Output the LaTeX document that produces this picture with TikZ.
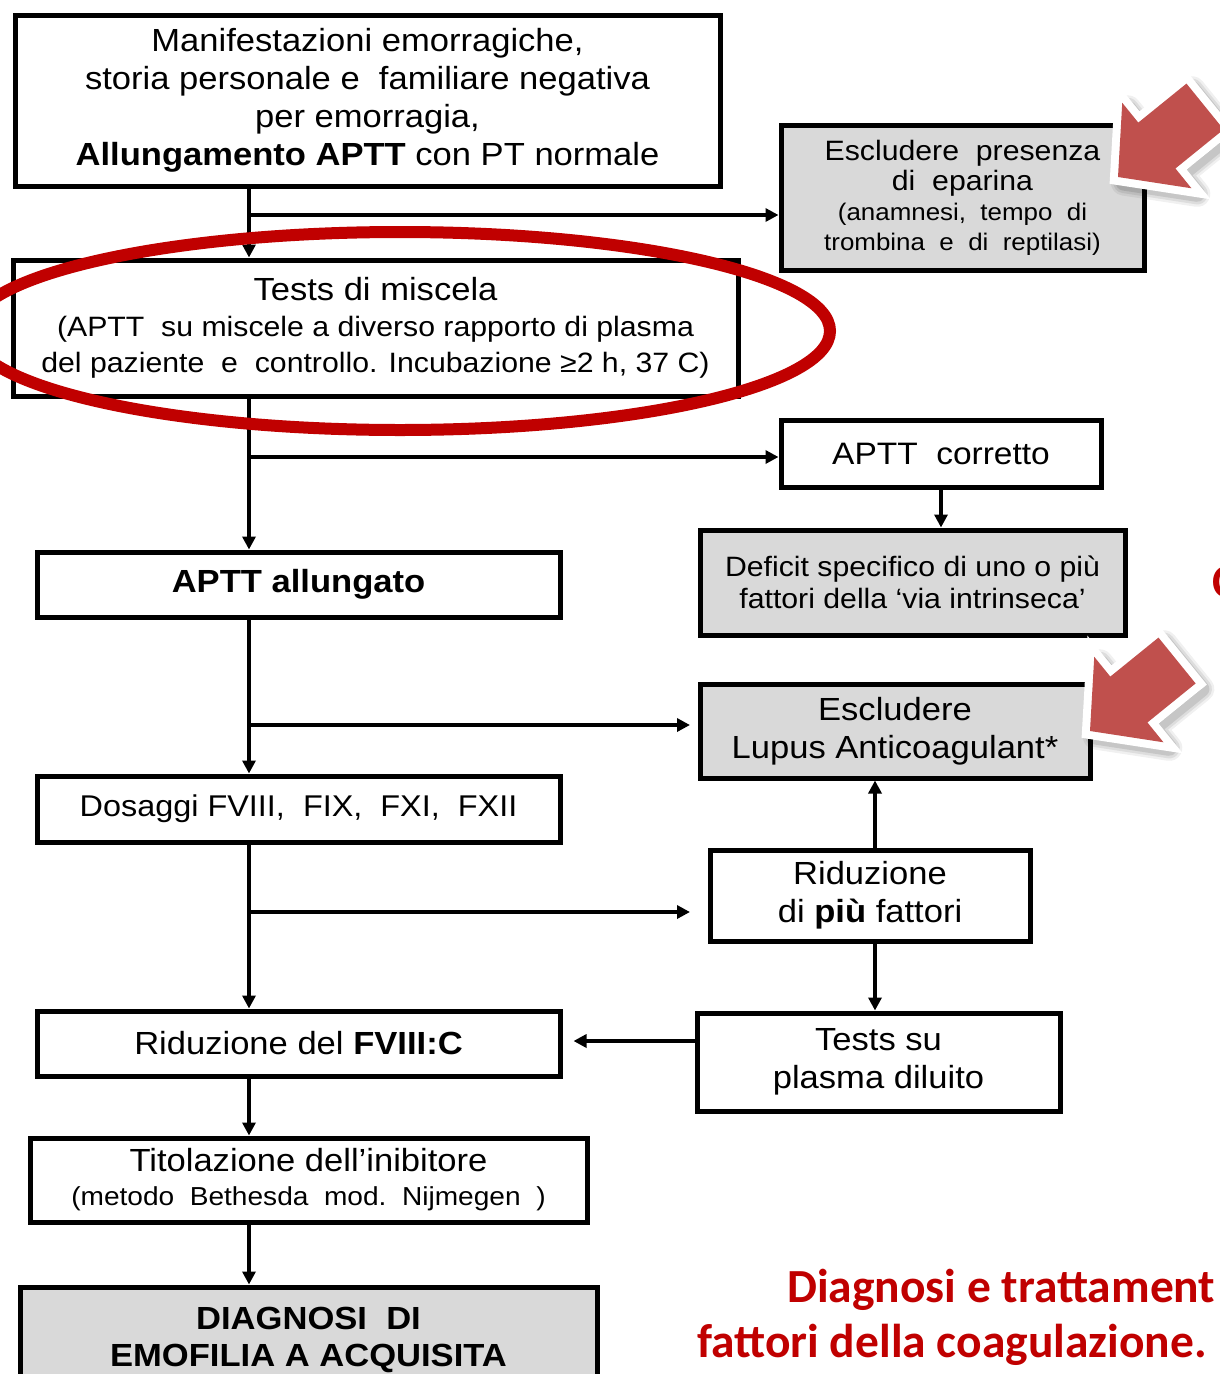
\documentclass[tikz,border=0pt]{standalone}
\usepackage{fontspec}
\setmainfont[FakeStretch=1.08]{Liberation Sans}
\newfontfamily\titlefont{Carlito}
\usetikzlibrary{arrows.meta,calc}
\definecolor{boxgray}{HTML}{D9D9D9}
\definecolor{titlered}{HTML}{C00000}
\definecolor{arrowred}{HTML}{C0504D}
\newcommand\fsz[2]{\fontsize{#1}{#2}\selectfont}
\tikzset{
  box/.style={draw=black, line width=5pt, align=center, inner sep=0pt, anchor=north west, text=black},
  gbox/.style={box, fill=boxgray},
  conn/.style={line width=4pt},
  arr/.style={conn, -{Triangle[length=13pt,width=13pt]}},
  bigarrow/.pic={
    \foreach \w/\o in {26/0.06,21/0.08,16/0.10}{
      \filldraw[black, opacity=\o, line width=\w pt, line join=round, shift={(1,8)}]
        (0,0) -- (50,55) -- (50,29.5) -- (112,29.5) -- (112,-29.5) -- (50,-29.5) -- (50,-55) -- cycle;
    }
    \filldraw[white, line width=16pt, line join=miter]
      (0,0) -- (50,55) -- (50,29.5) -- (112,29.5) -- (112,-29.5) -- (50,-29.5) -- (50,-55) -- cycle;
    \fill[arrowred]
      (0,0) -- (50,55) -- (50,29.5) -- (112,29.5) -- (112,-29.5) -- (50,-29.5) -- (50,-55) -- cycle;
  }
}
\begin{document}
\begin{tikzpicture}[x=1pt,y=-1pt]
\useasboundingbox (0,0) rectangle (1220,1374);
\fill[white] (0,0) rectangle (1220,1374);
\clip (0,0) rectangle (1220,1374);

% boxes
\node[box, minimum width=705pt, minimum height=171pt, font=\fsz{32}{38}] (b1) at (12.5,12.5)
  {Manifestazioni emorragiche,\\ storia personale e\ \ familiare negativa\\ per emorragia,\\ \textbf{Allungamento APTT} con PT normale};
\node[gbox, minimum width=363pt, minimum height=145pt, font=\fsz{28}{30}] (b2) at (778.5,122.5)
  {Escludere\ \ presenza\\ di\ \ eparina\\ \fsz{24}{30}(anamnesi,\ \ tempo\ \ di\\ \fsz{24}{30}trombina\ \ e\ \ di\ \ reptilasi)};
\node[box, minimum width=725pt, minimum height=136pt, font=\fsz{32}{36}] (b3) at (10.5,257.5)
  {Tests di miscela\\ \fsz{28}{36}(APTT\ \ su miscele a diverso rapporto di plasma\\ \fsz{28}{36}del paziente\ \ e\ \ controllo. Incubazione ≥2 h, 37 C)};
\node[box, minimum width=320pt, minimum height=67pt, font=\fsz{31}{36}] (b5) at (778.5,417.5)
  {APTT\ \ corretto};
\node[gbox, minimum width=425pt, minimum height=105pt, font=\fsz{28}{32}] (b6) at (697.5,527.5)
  {Deficit specifico di uno o più\\ fattori della ‘via intrinseca’};
\node[box, minimum width=523pt, minimum height=65pt, font=\bfseries\fsz{32}{38}] (b4) at (34.5,549.5)
  {APTT allungato};
\node[gbox, minimum width=390pt, minimum height=94pt, font=\fsz{32}{38}] (b8) at (697.5,681.5)
  {Escludere\\ Lupus Anticoagulant*};
\node[box, minimum width=523pt, minimum height=66pt, font=\fsz{30}{36}] (b7) at (34.5,773.5)
  {Dosaggi FVIII,\ \ FIX,\ \ FXI,\ \ FXII};
\node[box, minimum width=320pt, minimum height=91pt, font=\fsz{32}{38}] (b9) at (707.5,847.5)
  {Riduzione\\ di \textbf{più} fattori};
\node[box, minimum width=523pt, minimum height=65pt, font=\fsz{32}{38}] (b10) at (34.5,1008.5)
  {Riduzione del \textbf{FVIII:C}};
\node[box, minimum width=363pt, minimum height=98pt, font=\fsz{32}{38}] (b11) at (694.5,1010.5)
  {Tests su\\ plasma diluito};
\node[box, minimum width=557pt, minimum height=84pt, font=\fsz{32}{34}] (b12) at (27.5,1135.5)
  {Titolazione dell’inibitore\\ \fsz{26}{34}(metodo\ \ Bethesda\ \ mod.\ \ Nijmegen\ \ )};
\node[gbox, minimum width=577pt, minimum height=105pt, font=\bfseries\fsz{32}{37}] (b13) at (17.5,1284.5)
  {DIAGNOSI\ \ DI\\ EMOFILIA A ACQUISITA};

% connectors
\coordinate (t) at (249,0);
\coordinate (k) at (875,0);
\coordinate (j1) at (249,215);
\coordinate (j2) at (249,457);
\coordinate (j3) at (249,725);
\coordinate (j4) at (249,912);
\coordinate (m) at (0,1041);
\coordinate (g3) at (690,725);
\coordinate (g4) at (690,912);

\draw[arr] (b1.south -| t) -- (b3.north -| t);
\draw[arr] (j1) -- (b2.west |- j1);
\draw[arr] (b3.south -| t) -- (b4.north -| t);
\draw[arr] (j2) -- (b5.west |- j2);
\draw[arr] (b5.south) -- (b6.north -| b5.south);
\draw[arr] (b4.south -| t) -- (b7.north -| t);
\draw[arr] (j3) -- (g3);
\draw[arr] (b7.south -| t) -- (b10.north -| t);
\draw[arr] (j4) -- (g4);
\draw[arr] (b9.north -| k) -- (b8.south -| k);
\draw[arr] (b9.south -| k) -- (b11.north -| k);
\draw[arr, shorten >=11pt] (b11.west |- m) -- (b10.east |- m);
\draw[arr] (b10.south -| t) -- (b12.north -| t);
\draw[arr] (b12.south -| t) -- (b13.north -| t);

% red ellipse
\draw[titlered, line width=12pt] (400,331) ellipse [x radius=430, y radius=99];

% big arrows
\pic[rotate=39] at (1118,177) {bigarrow};
\pic[rotate=39] at (1090,731) {bigarrow};

% red title
\node[font=\titlefont\bfseries\fsz{47.5}{57}, text=titlered, anchor=base west, inner sep=0pt] (c1) at (1212,597) {C};
\node[font=\titlefont\bfseries\fsz{47.5}{57}, text=titlered, anchor=base west, inner sep=0pt] (tt1) at (787,1302) {Diagnosi e trattament};
\node[font=\titlefont\bfseries\fsz{47.5}{57}, text=titlered, anchor=base west, inner sep=0pt] (tt2) at (697,1357) {fattori della coagulazione.};
\end{tikzpicture}
\end{document}
